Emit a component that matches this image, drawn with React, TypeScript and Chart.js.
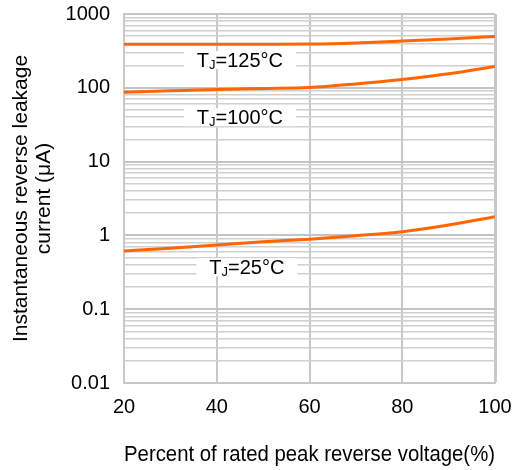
import React, { useEffect, useRef } from "react";
import { Chart, registerables } from "chart.js";

Chart.register(...registerables);

const voltagePct = [20, 30, 40, 50, 60, 70, 80, 90, 100];
const leak125 = [390, 390, 390, 390, 392, 405, 430, 460, 495];
const leak100 = [87, 91, 95, 98, 101, 113, 130, 155, 195];
const leak25 = [0.615, 0.67, 0.74, 0.82, 0.89, 0.99, 1.12, 1.38, 1.79];

const xTicks = [20, 40, 60, 80, 100];
const yDecades = [0.01, 0.1, 1, 10, 100, 1000];
const yTickLabels = ["0.01", "0.1", "1", "10", "100", "1000"];

const curveNames = ["125", "100", "25"];
const labelAnchorX = [45, 45, 46.5];
const labelAnchorY = [238, 40, 0.37];

const FONT = "'Liberation Sans', Arial, Helvetica, sans-serif";
const ORANGE = "#ff6600";

const labelPlugin = {
  id: "tjLabels",
  afterDraw(chart: any) {
    const ctx = chart.ctx;
    const xs = chart.scales.x;
    const ys = chart.scales.y;
    ctx.save();
    curveNames.forEach((name, i) => {
      const cx = xs.getPixelForValue(labelAnchorX[i]);
      const cy = ys.getPixelForValue(labelAnchorY[i]);
      const big = `20px ${FONT}`;
      const small = `13px ${FONT}`;
      ctx.font = big;
      const wT = ctx.measureText("T").width;
      const rest = "=" + name + "°C";
      const wRest = ctx.measureText(rest).width;
      ctx.font = small;
      const wJ = ctx.measureText("J").width;
      const total = wT + wJ + wRest;
      const padX = 13;
      const boxH = 18;
      ctx.fillStyle = "#ffffff";
      ctx.fillRect(cx - total / 2 - padX, cy - boxH / 2, total + 2 * padX, boxH);
      ctx.fillStyle = "#000000";
      ctx.textBaseline = "alphabetic";
      ctx.textAlign = "left";
      const base = cy + 7;
      let x = cx - total / 2;
      ctx.font = big;
      ctx.fillText("T", x, base);
      x += wT;
      ctx.font = small;
      ctx.fillText("J", x, base + 2);
      x += wJ;
      ctx.font = big;
      ctx.fillText(rest, x, base);
    });
    ctx.restore();
  },
};

export default function App() {
  const ref = useRef<HTMLCanvasElement>(null);
  useEffect(() => {
    if (!ref.current) return;
    const mk = (vals: number[]) => voltagePct.map((v, i) => ({ x: v, y: vals[i] }));
    const ds = (label: string, vals: number[]) => ({
      label,
      data: mk(vals),
      borderColor: ORANGE,
      backgroundColor: ORANGE,
      borderWidth: 3,
      pointRadius: 0,
      cubicInterpolationMode: "monotone" as const,
      fill: false,
    });
    const isDecade = (v: number) => yDecades.some((d) => Math.abs(d - v) < d * 1e-6);
    const chart = new Chart(ref.current, {
      type: "line",
      data: {
        datasets: [
          ds("TJ=125°C", leak125),
          ds("TJ=100°C", leak100),
          ds("TJ=25°C", leak25),
        ],
      },
      options: {
        animation: false,
        responsive: false,
        maintainAspectRatio: false,
        layout: { padding: { top: 14, right: 19, left: 0, bottom: 0 } },
        plugins: {
          legend: { display: false },
          tooltip: { enabled: false },
        },
        scales: {
          x: {
            type: "linear",
            min: 20,
            max: 100,
            afterBuildTicks: (scale: any) => {
              scale.ticks = xTicks.map((v) => ({ value: v }));
            },
            afterFit: (scale: any) => {
              scale.height = 87;
              scale.paddingRight = 0;
              scale.paddingLeft = 0;
            },
            ticks: {
              color: "#000",
              font: { family: FONT, size: 20 },
              padding: 12,
              maxRotation: 0,
            },
            grid: {
              color: "#c8c8c8",
              lineWidth: (c: any) => (c.tick && c.tick.value === 100 ? 3 : 2),
              drawTicks: false,
            },
            border: { display: true, color: "#c8c8c8", width: 2 },
            title: {
              display: true,
              text: "Percent of rated peak reverse voltage(%)",
              color: "#000",
              font: { family: FONT, size: 21.5 },
              padding: { top: 0, bottom: 2 },
            },
          },
          y: {
            type: "logarithmic",
            min: 0.01,
            max: 1000,
            afterBuildTicks: (scale: any) => {
              const t: any[] = [];
              for (let d = 0; d < yDecades.length; d++) {
                const dec = yDecades[d];
                if (d === yDecades.length - 1) {
                  t.push({ value: dec, major: true });
                  break;
                }
                for (let m = 1; m <= 9; m++) {
                  t.push({ value: +(dec * m).toPrecision(6), major: m === 1 });
                }
              }
              scale.ticks = t;
            },
            afterFit: (scale: any) => {
              scale.width = 124;
              scale.paddingTop = 0;
              scale.paddingBottom = 0;
            },
            ticks: {
              color: "#000",
              font: { family: FONT, size: 20 },
              padding: 14,
              autoSkip: false,
              callback: (v: any) => {
                const idx = yDecades.findIndex((d) => Math.abs(d - v) < d * 1e-6);
                return idx >= 0 ? yTickLabels[idx] : "";
              },
            },
            grid: {
              drawTicks: false,
              color: (c: any) => (c.tick && isDecade(c.tick.value) ? "#c4c4c4" : "#d0d0d0"),
              lineWidth: (c: any) => (c.tick && isDecade(c.tick.value) ? 2 : 1.5),
            },
            border: { display: true, color: "#c8c8c8", width: 2 },
            title: {
              display: true,
              text: ["Instantaneous reverse leakage", "current (μA)"],
              color: "#000",
              font: { family: FONT, size: 21, lineHeight: 1.1 },
              padding: { top: 10, bottom: 0 },
            },
          },
        },
      },
      plugins: [labelPlugin],
    });
    return () => chart.destroy();
  }, []);
  return (
    <div style={{ position: "absolute", left: 0, top: 0, width: 514, height: 470 }}>
      <canvas ref={ref} width={514} height={470} style={{ display: "block" }} />
    </div>
  );
}
